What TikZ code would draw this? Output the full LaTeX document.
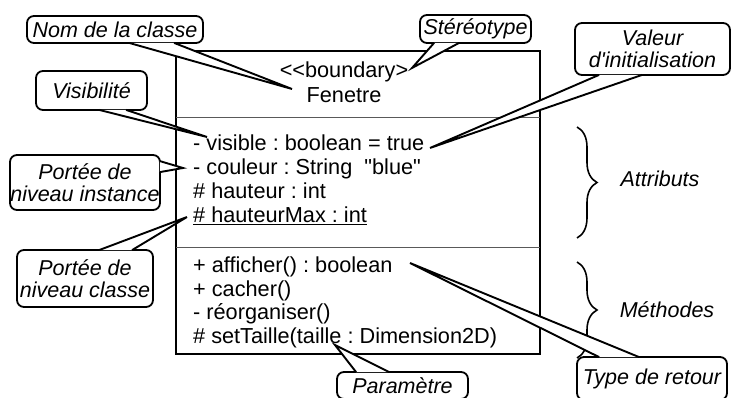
\documentclass[tikz,border=0pt]{standalone}
\usepackage{fontspec}
\setmainfont{Liberation Sans}
\usetikzlibrary{calc,decorations.pathreplacing}

% white wedge of a callout: two base points on the box edge, then the tip
\newcommand\calltail[3]{%
  \fill[white] #1 -- #3 -- #2 -- cycle;
  \draw[tailline] #1 -- #3 -- #2;}

\begin{document}
\frenchspacing
\begin{tikzpicture}[x=1pt,y=-1pt,
  boxline/.style={line width=1.8pt},
  divider/.style={line width=0.9pt, black!65},
  member/.style={anchor=base west, inner sep=0pt, font=\fontsize{21.7}{24}\selectfont},
  heading/.style={anchor=base, inner sep=0pt, font=\fontsize{21.7}{24}\selectfont},
  callout/.style={draw, line width=1.8pt, rounded corners=7pt, fill=white,
    inner sep=0pt, align=center, font=\fontsize{21.5}{22.5}\selectfont\itshape},
  tailline/.style={line width=1.9pt, line join=miter},
  groupbrace/.style={decorate, decoration={brace, amplitude=20pt}, line width=1.6pt},
  grouplabel/.style={anchor=base, inner sep=0pt, font=\fontsize{21.5}{24}\selectfont\itshape}]

\useasboundingbox (0,0) rectangle (731,398);
\clip (0,0) rectangle (731,398);

% class box and its compartments
\coordinate (cNW) at (176,51);
\coordinate (cSE) at (540,354);
\coordinate (d1w) at (176,117); \coordinate (d1e) at (540,117);
\coordinate (d2w) at (176,247); \coordinate (d2e) at (540,247);
\draw[boxline, fill=white] (cNW) rectangle (cSE);
\draw[divider] (d1w) -- (d1e);
\draw[divider] (d2w) -- (d2e);

\node[heading] (stereo) at (344,78) {<\kern0pt<boundary>};
\node[heading] (cname) at (344,103) {Fenetre};

\node[member] (a1) at (193,151) {- visible : boolean = true};
\node[member] (a2) at (193,175) {- couleur : String~~\textquotedbl blue\textquotedbl};
\node[member] (a3) at (193,199) {\# hauteur : int};
\node[member] (a4) at (193,223) {\underline{\# hauteurMax : int}};

\node[member] (m1) at (193,272.5) {+ afficher() : boolean};
\node[member] (m2) at (193,296) {+ cacher()};
\node[member] (m3) at (193,319.5) {- réorganiser()};
\node[member] (m4) at (193,343) {\# setTaille(taille : Dimension2D)};

% compartment braces
\coordinate (bA1) at (577,127); \coordinate (bA2) at (577,238);
\coordinate (bM1) at (577,262); \coordinate (bM2) at (577,358);
\draw[groupbrace] (bA1) -- (bA2);
\draw[groupbrace] (bM1) -- (bM2);
\node[grouplabel] (attr) at (660,187) {Attributs};
\node[grouplabel] (meth) at (667,317) {Méthodes};

% callout tips
\coordinate (nomtip) at (292,89);
\coordinate (sttip) at (412,68);
\coordinate (valtip) at (430,148);
\coordinate (vistip) at (207,137);
\coordinate (insttip) at (183,168);
\coordinate (clstip) at (187,217);
\coordinate (partip) at (335,345);
\coordinate (rettip) at (410,263);

% callouts
\node[callout, minimum width=176pt, minimum height=27pt] (nom) at (115,29.5) {Nom de la classe};
\calltail{([xshift=103pt,yshift=1pt]nom.south west)}{([xshift=148pt,yshift=1pt]nom.south west)}{(nomtip)}

\node[callout, minimum width=111pt, minimum height=28pt] (st) at (475.5,29) {Stéréotype};
\calltail{([xshift=15pt,yshift=1pt]st.south west)}{([xshift=40pt,yshift=1pt]st.south west)}{(sttip)}

\node[callout, minimum width=155pt, minimum height=52pt] (val) at (652.5,49) {Valeur\\d\textquotesingle initialisation};
\calltail{([xshift=25pt,yshift=1pt]val.south west)}{([xshift=68pt,yshift=1pt]val.south west)}{(valtip)}

\node[callout, minimum width=111pt, minimum height=39pt] (vis) at (91.5,90.5) {Visibilité};
\calltail{([xshift=64pt,yshift=1pt]vis.south west)}{([xshift=91pt,yshift=1pt]vis.south west)}{(vistip)}

\node[callout, minimum width=150pt, minimum height=55pt] (inst) at (85,182.5) {Portée de\\niveau instance};
\calltail{([xshift=-1pt,yshift=-7pt]inst.north east)}{([xshift=-1pt,yshift=-18pt]inst.north east)}{(insttip)}

\node[callout, minimum width=136pt, minimum height=57pt] (cls) at (85,278.5) {Portée de\\niveau classe};
\calltail{([xshift=83pt,yshift=-1pt]cls.north west)}{([xshift=116pt,yshift=-1pt]cls.north west)}{(clstip)}

\node[callout, minimum width=131pt, minimum height=27pt] (par) at (402.5,385.5) {Paramètre};
\calltail{([xshift=20pt,yshift=-1pt]par.north west)}{([xshift=53pt,yshift=-1pt]par.north west)}{(partip)}

\node[callout, minimum width=150pt, minimum height=43pt] (ret) at (652,378.5) {Type de retour};
\calltail{([xshift=23pt,yshift=-1pt]ret.north west)}{([xshift=63pt,yshift=-1pt]ret.north west)}{(rettip)}

\end{tikzpicture}
\end{document}
